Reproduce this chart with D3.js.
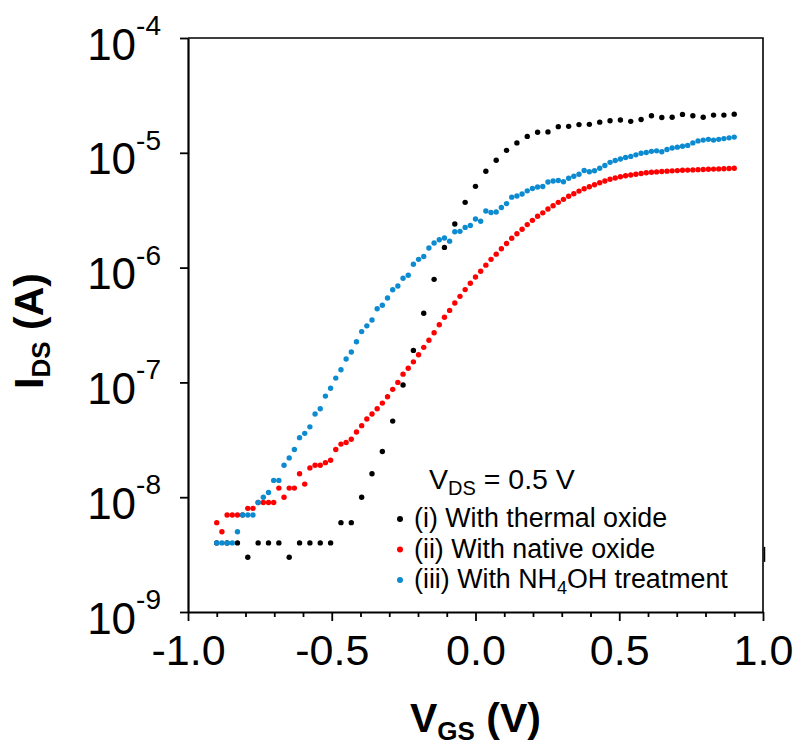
<!DOCTYPE html>
<html>
<head>
<meta charset="utf-8">
<script src="https://cdn.jsdelivr.net/npm/d3@7/dist/d3.min.js"></script>
<style>
	body { margin: 0; background: #fff; }
	svg { display: block; font-family: Arial, "Liberation Sans", sans-serif; }
</style>
</head>
<body>
<svg width="795" height="746"></svg>
<script>
(function() {
	"use strict"

	// gate sweep, 18 mV steps
	var vgsFine = [-0.900,-0.882,-0.864,-0.846,-0.828,-0.810,-0.792,-0.774,-0.756,-0.738,
		-0.720,-0.702,-0.684,-0.666,-0.648,-0.630,-0.612,-0.594,-0.576,-0.558,
		-0.540,-0.522,-0.504,-0.486,-0.468,-0.450,-0.432,-0.414,-0.396,-0.378,
		-0.360,-0.342,-0.324,-0.306,-0.288,-0.270,-0.252,-0.234,-0.216,-0.198,
		-0.180,-0.162,-0.144,-0.126,-0.108,-0.090,-0.072,-0.054,-0.036,-0.018,
		0.000,0.018,0.036,0.054,0.072,0.090,0.108,0.126,0.144,0.162,
		0.180,0.198,0.216,0.234,0.252,0.270,0.288,0.306,0.324,0.342,
		0.360,0.378,0.396,0.414,0.432,0.450,0.468,0.486,0.504,0.522,
		0.540,0.558,0.576,0.594,0.612,0.630,0.648,0.666,0.684,0.702,
		0.720,0.738,0.756,0.774,0.792,0.810,0.828,0.846,0.864,0.882,
		0.900];

	// thermal oxide sample was measured with 36 mV steps
	var vgsThermal = [-0.900,-0.864,-0.828,-0.792,-0.756,-0.720,-0.684,-0.648,-0.612,-0.576,
		-0.540,-0.504,-0.468,-0.432,-0.396,-0.360,-0.324,-0.288,-0.252,-0.216,
		-0.180,-0.144,-0.108,-0.072,-0.036,0.000,0.036,0.072,0.108,0.144,
		0.180,0.216,0.252,0.288,0.324,0.360,0.396,0.432,0.468,0.504,
		0.540,0.576,0.612,0.648,0.684,0.720,0.756,0.792,0.828,0.864,
		0.900];

	var idsThermal = [4.0e-9,4.0e-9,4.0e-9,3.0e-9,4.0e-9,4.0e-9,4.0e-9,3.0e-9,4.0e-9,4.0e-9,
		4.0e-9,4.0e-9,6.0e-9,6.0e-9,1.0e-8,1.6e-8,2.5e-8,4.6e-8,9.5e-8,1.9e-7,
		4.0e-7,7.9e-7,1.5e-6,2.4e-6,3.7e-6,5.1e-6,6.9e-6,8.6e-6,1.05e-5,1.22e-5,
		1.39e-5,1.51e-5,1.52e-5,1.69e-5,1.70e-5,1.76e-5,1.77e-5,1.85e-5,1.90e-5,1.93e-5,
		1.88e-5,1.95e-5,2.10e-5,2.03e-5,2.04e-5,2.16e-5,2.10e-5,2.04e-5,2.13e-5,2.13e-5,
		2.17e-5];

	var idsNative = [6.0e-9,5.0e-9,7.0e-9,7.0e-9,7.0e-9,7.0e-9,8.0e-9,8.0e-9,9.0e-9,9.0e-9,
		9.0e-9,9.0e-9,1.2e-8,1.0e-8,1.2e-8,1.2e-8,1.6e-8,1.3e-8,1.8e-8,1.9e-8,
		1.9e-8,2.0e-8,2.1e-8,2.6e-8,2.9e-8,3.0e-8,3.2e-8,3.7e-8,4.2e-8,4.8e-8,
		5.3e-8,5.9e-8,6.6e-8,7.5e-8,8.7e-8,1.0e-7,1.18e-7,1.33e-7,1.51e-7,1.74e-7,
		2.02e-7,2.33e-7,2.71e-7,3.18e-7,3.69e-7,4.24e-7,4.91e-7,5.62e-7,6.43e-7,7.30e-7,
		8.28e-7,9.3e-7,1.05e-6,1.18e-6,1.31e-6,1.46e-6,1.62e-6,1.80e-6,1.97e-6,2.16e-6,
		2.37e-6,2.58e-6,2.80e-6,3.00e-6,3.24e-6,3.46e-6,3.70e-6,3.93e-6,4.18e-6,4.40e-6,
		4.64e-6,4.86e-6,5.06e-6,5.27e-6,5.49e-6,5.68e-6,5.88e-6,6.04e-6,6.18e-6,6.31e-6,
		6.41e-6,6.51e-6,6.60e-6,6.70e-6,6.77e-6,6.82e-6,6.88e-6,6.92e-6,6.96e-6,7.00e-6,
		7.04e-6,7.07e-6,7.10e-6,7.13e-6,7.16e-6,7.18e-6,7.21e-6,7.24e-6,7.27e-6,7.30e-6,
		7.33e-6];

	var idsNH4OH = [4.0e-9,4.0e-9,4.0e-9,4.0e-9,5.0e-9,7.0e-9,7.0e-9,7.0e-9,9.0e-9,1.0e-8,
		1.1e-8,1.4e-8,1.4e-8,1.9e-8,2.2e-8,2.6e-8,3.3e-8,3.6e-8,4.1e-8,5.3e-8,
		5.9e-8,7.6e-8,8.9e-8,1.09e-7,1.29e-7,1.60e-7,1.84e-7,2.26e-7,2.77e-7,3.11e-7,
		3.50e-7,4.38e-7,4.70e-7,5.44e-7,6.42e-7,6.92e-7,8.07e-7,8.57e-7,1.07e-6,1.18e-6,
		1.25e-6,1.48e-6,1.64e-6,1.75e-6,1.81e-6,1.70e-6,2.05e-6,2.07e-6,2.24e-6,2.33e-6,
		2.65e-6,2.53e-6,3.11e-6,3.02e-6,3.05e-6,3.34e-6,3.61e-6,4.11e-6,4.20e-6,4.37e-6,
		4.66e-6,4.88e-6,5.03e-6,5.08e-6,5.56e-6,5.68e-6,5.74e-6,5.59e-6,6.00e-6,6.24e-6,
		6.50e-6,7.01e-6,6.83e-6,6.97e-6,7.33e-6,7.75e-6,8.26e-6,8.57e-6,8.83e-6,9.10e-6,
		9.30e-6,9.60e-6,9.90e-6,1.006e-5,1.03e-5,1.04e-5,1.02e-5,1.07e-5,1.10e-5,1.12e-5,
		1.14e-5,1.16e-5,1.22e-5,1.27e-5,1.29e-5,1.31e-5,1.29e-5,1.31e-5,1.33e-5,1.35e-5,
		1.37e-5];

	var xMajorTicks = [-1.0, -0.5, 0.0, 0.5, 1.0],
		xMinorTicks = [-0.9, -0.8, -0.7, -0.6, -0.4, -0.3, -0.2, -0.1, 0.1, 0.2, 0.3, 0.4, 0.6, 0.7, 0.8, 0.9],
		yTicks = [1e-4, 1e-5, 1e-6, 1e-7, 1e-8, 1e-9],
		yTickExponents = ["-4", "-5", "-6", "-7", "-8", "-9"];

	var series = [
		{ x: vgsThermal, y: idsThermal, color: "#000000", name: "(i) With thermal oxide" },
		{ x: vgsFine, y: idsNative, color: "#ff0000", name: "(ii) With native oxide" },
		{ x: vgsFine, y: idsNH4OH, color: "#0d8bd1", name: "(iii) With NH4OH treatment" }
	];

	var left = 188, right = 763, top = 38, bottom = 612,
		dotRadius = 2.7;

	var svg = d3.select("svg");

	var x = d3.scaleLinear().domain([-1, 1]).range([left, right]),
		y = d3.scaleLog().domain([1e-9, 1e-4]).range([bottom, top]);

	// frame, top and right sides
	svg.append("path")
		.attr("d", "M" + left + "," + top + "H" + right + "V" + bottom)
		.style("fill", "none")
		.style("stroke", "#000")
		.style("stroke-width", 1.6);
	// small notch on the right border
	svg.append("line")
		.attr("x1", right + 1.5).attr("x2", right + 1.5)
		.attr("y1", y(4.0e-9) + 4).attr("y2", y(4.0e-9) + 19)
		.style("stroke", "#000")
		.style("stroke-width", 1.5);

	// x axis
	var xMinor = svg.append("g")
		.attr("transform", "translate(0," + bottom + ")")
		.call(d3.axisBottom(x).tickValues(xMinorTicks).tickSize(5).tickSizeOuter(0).tickFormat(""));
	xMinor.select(".domain").remove();
	xMinor.selectAll("line").style("stroke-width", 1.8);

	var xAxis = svg.append("g")
		.attr("transform", "translate(0," + bottom + ")")
		.call(d3.axisBottom(x)
			.tickValues(xMajorTicks)
			.tickSize(9)
			.tickSizeOuter(0)
			.tickPadding(13)
			.tickFormat(function(d) {
				return d.toFixed(1);
			}));
	xAxis.select(".domain").style("stroke-width", 2.2);
	xAxis.selectAll("line").style("stroke-width", 1.8);
	xAxis.selectAll("text")
		.style("font-size", "43px")
		.style("font-family", "Arial, 'Liberation Sans', sans-serif")
		.style("fill", "#000");

	// y axis
	var yAxis = svg.append("g")
		.attr("transform", "translate(" + left + ",0)")
		.call(d3.axisLeft(y).tickValues(yTicks).tickSize(8).tickSizeOuter(0).tickFormat(""));
	yAxis.select(".domain").style("stroke-width", 2.2);
	yAxis.selectAll("line").style("stroke-width", 1.8);

	var yLabels = svg.append("g")
		.selectAll("text")
		.data(yTicks)
		.enter()
		.append("text")
			.attr("x", 161)
			.attr("y", function(d) {
				return y(d) + 21.5;
			})
			.attr("text-anchor", "end")
			.style("fill", "#000");
	yLabels.append("tspan")
		.style("font-size", "44px")
		.text("10");
	yLabels.append("tspan")
		.attr("dy", -24.5)
		.style("font-size", "28px")
		.text(function(d, i) {
			return yTickExponents[i];
		});

	// axis titles
	var xTitle = svg.append("text")
		.attr("x", (left + right) / 2)
		.attr("y", 731.5)
		.attr("text-anchor", "middle")
		.style("font-weight", "bold")
		.style("font-size", "41px");
	xTitle.append("tspan").text("V");
	xTitle.append("tspan").attr("dy", 8).style("font-size", "26px").text("GS");
	xTitle.append("tspan").attr("dy", -8).text(" (V)");

	var yTitle = svg.append("text")
		.attr("transform", "translate(43," + 331 + ") rotate(-90)")
		.attr("text-anchor", "middle")
		.style("font-weight", "bold")
		.style("font-size", "41px");
	yTitle.append("tspan").text("I");
	yTitle.append("tspan").attr("dy", 7).style("font-size", "26px").text("DS");
	yTitle.append("tspan").attr("dy", -7).text(" (A)");

	// data points
	series.forEach(function(s) {
		svg.append("g")
			.selectAll("circle")
			.data(s.y)
			.enter()
			.append("circle")
				.attr("cx", function(d, i) {
					return x(s.x[i]);
				})
				.attr("cy", function(d) {
					return y(d);
				})
				.attr("r", dotRadius)
				.style("fill", s.color);
	});

	// legend
	var legend = svg.append("g").style("font-size", "26.8px");
	var vds = legend.append("text").attr("x", 429).attr("y", 488.5).style("font-size", "28.5px");
	vds.append("tspan").text("V");
	vds.append("tspan").attr("dy", 6).style("font-size", "20px").text("DS");
	vds.append("tspan").attr("dy", -6).text(" = 0.5 V");

	var rows = legend.selectAll("g.row")
		.data(series)
		.enter()
		.append("g")
			.attr("class", "row")
			.attr("transform", function(d, i) {
				return "translate(0," + (527 + i * 30.5) + ")";
			});
	rows.append("circle")
		.attr("cx", 400)
		.attr("cy", -8)
		.attr("r", 3)
		.style("fill", function(d) {
			return d.color;
		});
	rows.each(function(d) {
		var t = d3.select(this).append("text").attr("x", 414);
		var parts = d.name.split("4");
		if (parts.length === 2) {
			t.append("tspan").text(parts[0]);
			t.append("tspan").attr("dy", 6).style("font-size", "18px").text("4");
			t.append("tspan").attr("dy", -6).text(parts[1]);
		} else {
			t.text(d.name);
		}
	});
})();
</script>
</body>
</html>
